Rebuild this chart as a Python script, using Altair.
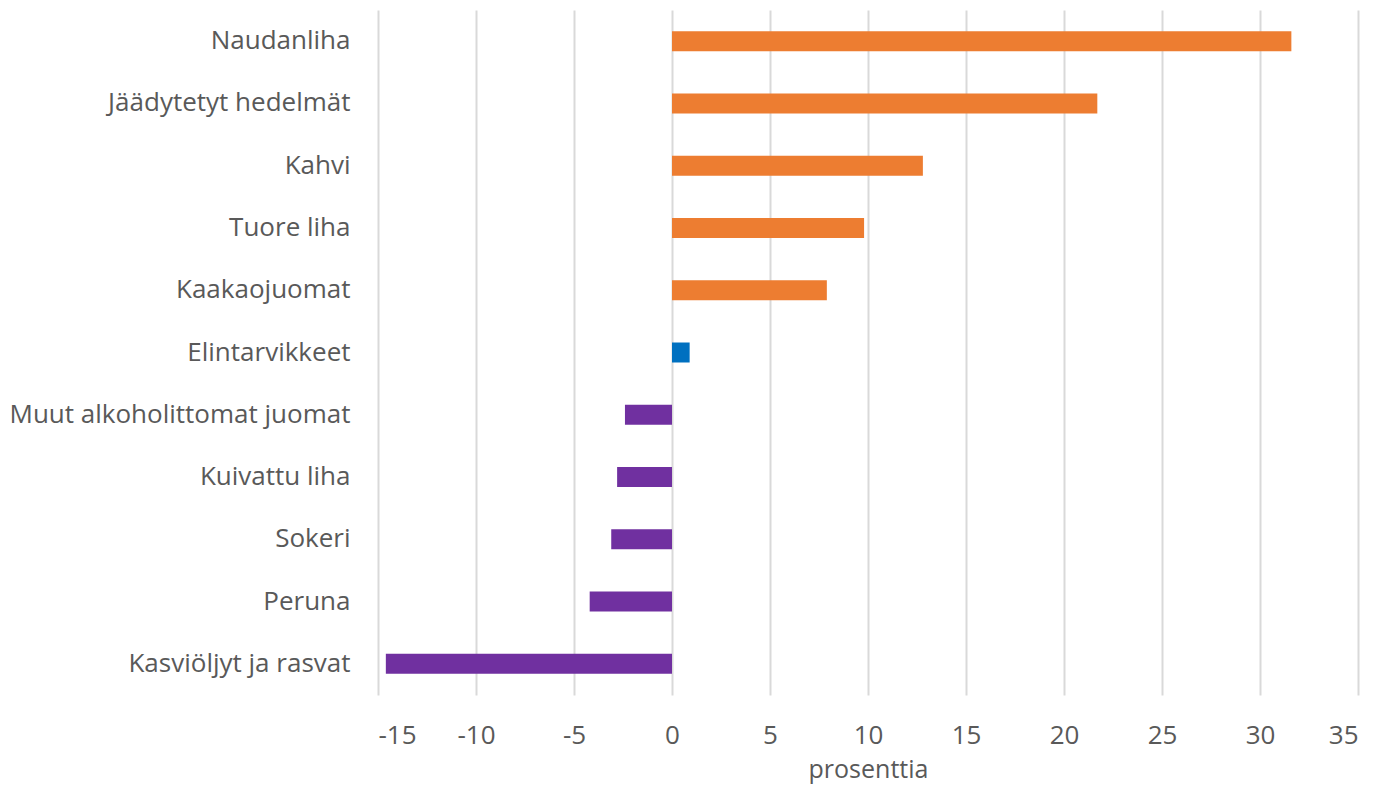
import altair as alt
import pandas as pd

categories = ["Naudanliha", "Jäädytetyt hedelmät", "Kahvi", "Tuore liha", "Kaakaojuomat",
              "Elintarvikkeet", "Muut alkoholittomat juomat", "Kuivattu liha", "Sokeri",
              "Peruna", "Kasviöljyt ja rasvat"]
values = [31.6, 21.7, 12.8, 9.8, 7.9, 0.9, -2.4, -2.8, -3.1, -4.2, -14.6]
groups = ["up", "up", "up", "up", "up", "total", "down", "down", "down", "down", "down"]
x_ticks = [-15, -10, -5, 0, 5, 10, 15, 20, 25, 30, 35]

df = pd.DataFrame({"cat": categories, "value": values, "group": groups})

font = "Open Sans"

chart = alt.Chart(df).mark_bar(size=20).encode(
    y=alt.Y("cat:N", sort=categories, title=None,
            scale=alt.Scale(paddingInner=0.68, paddingOuter=0.34),
            axis=alt.Axis(domain=False, ticks=False, labelPadding=28, labelFontSize=26,
                          labelFont=font, labelColor="#595959", grid=False, labelLimit=400)),
    x=alt.X("value:Q", title="prosenttia",
            scale=alt.Scale(domain=[-15, 35], nice=False),
            axis=alt.Axis(values=x_ticks, domain=False, ticks=False, grid=True,
                          gridColor="#d9d9d9", gridWidth=2, labelPadding=27,
                          labelExpr="toString(datum.value)",
                          labelFontSize=26, labelFont=font, labelColor="#595959",
                          titleFontSize=25, titleFont=font, titleColor="#595959",
                          titleFontWeight="normal", titlePadding=9)),
    color=alt.Color("group:N", legend=None,
                    scale=alt.Scale(domain=["up", "total", "down"],
                                    range=["#ED7D31", "#0070C0", "#7030A0"])),
).properties(
    width=980, height=685,
    autosize=alt.AutoSizeParams(type="none"),
    padding={"left": 370, "top": 2, "right": 8, "bottom": 94},
).configure_view(stroke=None)

chart.save("out.html", embed_options={"renderer": "svg", "actions": False})
